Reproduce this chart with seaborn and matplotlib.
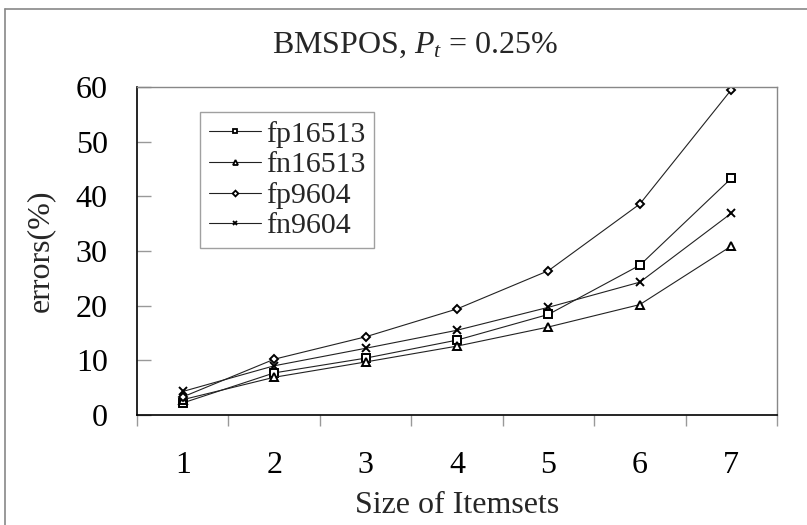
import matplotlib
matplotlib.use("Agg")
import matplotlib.pyplot as plt
import seaborn as sns
import pandas as pd
from matplotlib.lines import Line2D

# ---- data ----
sizes = [1, 2, 3, 4, 5, 6, 7]
fp16513 = [2.2, 7.7, 10.4, 13.7, 18.4, 27.4, 43.3]
fn16513 = [2.8, 6.9, 9.7, 12.6, 16.1, 20.2, 30.9]
fp9604 = [3.3, 10.2, 14.3, 19.4, 26.4, 38.6, 59.5]
fn9604 = [4.3, 9.0, 12.2, 15.5, 19.7, 24.3, 36.9]
series_names = ["fp16513", "fn16513", "fp9604", "fn9604"]
series_values = [fp16513, fn16513, fp9604, fn9604]
y_ticks = [0, 10, 20, 30, 40, 50, 60]

sns.set_theme(style="white")
plt.rcParams["font.family"] = ["Liberation Serif", "DejaVu Serif"]
plt.rcParams["mathtext.fontset"] = "custom"
plt.rcParams["mathtext.rm"] = "Liberation Serif"
plt.rcParams["mathtext.it"] = "Liberation Serif:italic"

rows = []
for name, vals in zip(series_names, series_values):
    for s, v in zip(sizes, vals):
        rows.append({"size": s, "errors": v, "series": name})
df = pd.DataFrame(rows)

fig = plt.figure(figsize=(8.07, 5.25), dpi=100)
ax = fig.add_axes([137 / 807, 1 - 415 / 525, 640 / 807, 328 / 525])

markers = {"fp16513": "s", "fn16513": "^", "fp9604": "D", "fn9604": "x"}
msizes = {"fp16513": 5.5, "fn16513": 5.5, "fp9604": 4.5, "fn9604": 5.5}
handles = []
for name in series_names:
    sub = df[df["series"] == name]
    sns.lineplot(data=sub, x="size", y="errors", ax=ax, color="#222222",
                 linewidth=0.8, marker=markers[name], markersize=msizes[name],
                 markerfacecolor="white", markeredgecolor="black",
                 markeredgewidth=1.4, label=None, legend=False)
    handles.append(Line2D([], [], color="#222222", linewidth=0.8,
                          marker=markers[name], markersize=msizes[name] * 0.65,
                          markerfacecolor="white", markeredgecolor="black",
                          markeredgewidth=1.3, label=name))

ax.set_xlim(0.5, 7.5)
ax.set_ylim(0, 60)
ax.set_yticks(y_ticks)
ax.set_xticks(sizes)
ax.set_xticks([x + 0.5 for x in [0] + sizes], minor=True)
ax.tick_params(axis="x", which="major", length=0, labelsize=23, pad=26,
               colors="black")
ax.tick_params(axis="x", which="minor", direction="out", length=8, width=1,
               color="#999999", bottom=True)
ax.tick_params(axis="y", direction="in", length=10, width=1, color="#999999",
               labelsize=23, pad=21, left=True, labelcolor="black")

for side in ["left", "bottom"]:
    ax.spines[side].set_color("black")
    ax.spines[side].set_linewidth(1.2)
for side in ["top", "right"]:
    ax.spines[side].set_color("#888888")
    ax.spines[side].set_linewidth(1.0)

ax.set_xlabel("Size of Itemsets", fontsize=23, labelpad=8)
ax.set_ylabel("errors(%)", fontsize=23, labelpad=15)

leg = ax.legend(handles=handles, loc="upper left",
                bbox_to_anchor=((200 - 137) / 640, (415 - 112) / 328),
                fontsize=21.5, frameon=True, fancybox=False, edgecolor="#888888",
                handlelength=1.75, handletextpad=0.15, labelspacing=0.12,
                borderpad=0.3, borderaxespad=0)
leg.get_frame().set_linewidth(1.0)

fig.text(415 / 807, 1 - 53 / 525, r"BMSPOS, $P_t$ = 0.25%", ha="center",
         va="baseline", fontsize=23)

# outer frame lines (left and top)
fig.add_artist(Line2D([5 / 807, 5 / 807], [0, 1 - 9 / 525], color="#888888",
                      linewidth=1.2, transform=fig.transFigure))
fig.add_artist(Line2D([5 / 807, 1], [1 - 9 / 525, 1 - 9 / 525], color="#888888",
                      linewidth=1.2, transform=fig.transFigure))

fig.savefig("out.png", dpi=100)
